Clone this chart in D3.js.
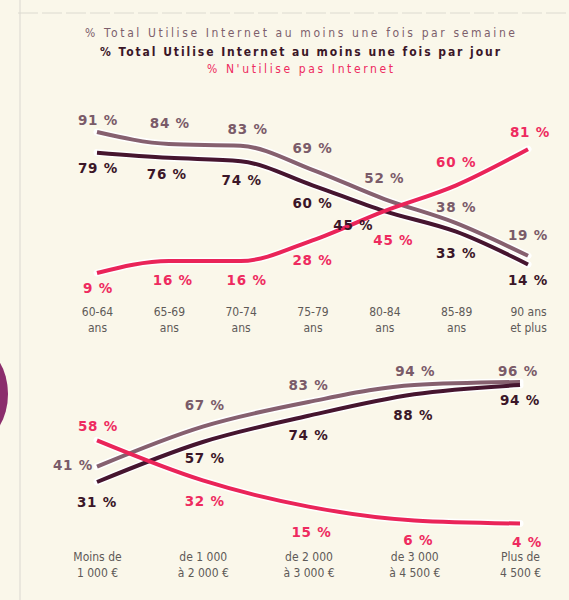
<!DOCTYPE html>
<html lang="fr">
<head>
<meta charset="UTF-8">
<title>Internet et seniors</title>
<style>
  body { margin: 0; background: #faf7ea; }
  svg { display: block; }
</style>
</head>
<body>
<script src="https://d3js.org/d3.v7.min.js"></script>
<script>
    // data - top chart (age)
    const ages = ["60-64|ans", "65-69|ans", "70-74|ans", "75-79|ans", "80-84|ans", "85-89|ans", "90 ans|et plus"];
    const ageWeekly = [91, 84, 83, 69, 52, 38, 19];
    const ageDaily = [79, 76, 74, 60, 45, 33, 14];
    const ageNever = [9, 16, 16, 28, 45, 60, 81];

    // data - bottom chart (income)
    const incomes = ["Moins de|1 000 €", "de 1 000|à 2 000 €", "de 2 000|à 3 000 €", "de 3 000|à 4 500 €", "Plus de|4 500 €"];
    const incWeekly = [41, 67, 83, 94, 96];
    const incDaily = [31, 57, 74, 88, 94];
    const incNever = [58, 32, 15, 6, 4];

    const titles = [
        "% Total Utilise Internet au moins une fois par semaine",
        "% Total Utilise Internet au moins une fois par jour",
        "% N'utilise pas Internet"
    ];

    // label offsets from the point (layout only)
    const topOffsets = {
        weekly: [[1,-12],[1,-21],[7,-17],[0,-22],[0,-21],[0,-16],[0,-21]],
        daily: [[1,15],[-2,16],[1,19],[0,18],[-31,14],[0,21],[0,16]],
        never: [[1,15],[4,19],[6,19],[0,20],[9,29],[0,-23],[2,-17]]
    };
    const botOffsets = {
        weekly: [[-24,-2],[2,-22],[0,-17],[1,-14],[-2,-11]],
        daily: [[0,20],[2,16],[0,19],[-1,21],[0,15]],
        never: [[1,-14],[2,21],[3,25],[4,20],[7,18]]
    };

    const width = 569, height = 600;
    const colWeekly = "#86606f", colDaily = "#46152f", colNever = "#ea2459";
    const txtWeekly = "#7a5b69", txtDaily = "#3b1628", txtNever = "#ee2b5f";

    const svg = d3.select("body").append("svg")
        .attr("width", width)
        .attr("height", height);

    svg.append("rect").attr("width", width).attr("height", height).attr("fill", "#faf7ea");

    // page decorations
    svg.append("ellipse")
        .attr("cx", -22).attr("cy", 394).attr("rx", 30).attr("ry", 46)
        .attr("fill", "#8b2d6c");
    svg.append("line")
        .attr("x1", 20).attr("x2", 20).attr("y1", 0).attr("y2", height)
        .attr("stroke", "#e4e2d8").attr("stroke-width", 1.5);
    svg.append("line")
        .attr("x1", 18).attr("x2", width).attr("y1", 13).attr("y2", 13)
        .attr("stroke", "#dcdad0").attr("stroke-width", 1)
        .attr("stroke-dasharray", "20,4");

    // title
    const titleStyle = [
        {y: 37, w: 430, weight: "normal", fill: "#7d5f6c"},
        {y: 56, w: 400, weight: "bold", fill: "#3b1628"},
        {y: 73, w: 186, weight: "normal", fill: "#ee2b5f"}
    ];
    svg.selectAll(".title")
        .data(titles)
        .join("text")
        .attr("class", "title")
        .attr("x", 300)
        .attr("y", (d, i) => titleStyle[i].y)
        .attr("text-anchor", "middle")
        .attr("font-family", "'Liberation Sans Narrow', 'DejaVu Sans Condensed', 'Noto Sans', sans-serif")
        .attr("font-size", 12)
        .attr("font-weight", (d, i) => titleStyle[i].weight)
        .attr("fill", (d, i) => titleStyle[i].fill)
        .attr("textLength", (d, i) => titleStyle[i].w)
        .attr("lengthAdjust", "spacing")
        .text(d => d);

    function drawPanel(cats, series, x, y, offsets, axisY) {
        const g = svg.append("g");
        const line = d3.line()
            .x((d, i) => x(cats[i]))
            .y(d => y(d))
            .curve(d3.curveMonotoneX);

        // white halos first, then lines
        series.forEach(s => {
            g.append("path")
                .datum(s.values)
                .attr("fill", "none")
                .attr("stroke", "#ffffff")
                .attr("stroke-width", 7)
                .attr("stroke-linecap", "round")
                .attr("d", line);
        });
        series.forEach(s => {
            g.append("path")
                .datum(s.values)
                .attr("fill", "none")
                .attr("stroke", s.color)
                .attr("stroke-width", 4)
                .attr("stroke-linecap", "butt")
                .attr("d", line);
        });

        series.forEach(s => {
            g.selectAll(null)
                .data(s.values)
                .join("text")
                .attr("x", (d, i) => x(cats[i]) + offsets[s.key][i][0])
                .attr("y", (d, i) => y(d) + offsets[s.key][i][1])
                .attr("text-anchor", "middle")
                .attr("dominant-baseline", "central")
                .attr("font-family", "'DejaVu Sans', sans-serif")
                .attr("font-size", 13.5)
                .attr("font-weight", "bold")
                .attr("letter-spacing", 0.8)
                .attr("fill", s.text)
                .text(d => d + " %");
        });

        // category axis
        const axis = g.append("g")
            .attr("transform", `translate(0,${axisY})`)
            .call(d3.axisBottom(x).tickSize(0).tickPadding(0));
        axis.select(".domain").remove();
        axis.selectAll("text")
            .attr("fill", "#5e5a58")
            .attr("font-family", "'Liberation Sans Narrow', 'DejaVu Sans Condensed', 'Liberation Serif', serif")
            .attr("font-size", 12)
            .attr("dy", null)
            .text(null)
            .each(function (d) {
                const parts = d.split("|");
                const t = d3.select(this);
                parts.forEach((p, k) => {
                    t.append("tspan")
                        .attr("x", 0)
                        .attr("dy", k === 0 ? "0em" : "1.3em")
                        .text(p);
                });
            });
    }

    // top chart
    const xTop = d3.scalePoint().domain(ages).range([97, 528]);
    const yTop = d3.scaleLinear().domain([0, 100]).range([288.5, 116.5]);
    drawPanel(ages, [
        {key: "weekly", values: ageWeekly, color: colWeekly, text: txtWeekly},
        {key: "daily", values: ageDaily, color: colDaily, text: txtDaily},
        {key: "never", values: ageNever, color: colNever, text: txtNever}
    ], xTop, yTop, topOffsets, 316);

    // bottom chart
    const xBot = d3.scalePoint().domain(incomes).range([97, 520]);
    const yBot = d3.scaleLinear().domain([0, 100]).range([529.7, 375.8]);
    drawPanel(incomes, [
        {key: "weekly", values: incWeekly, color: colWeekly, text: txtWeekly},
        {key: "daily", values: incDaily, color: colDaily, text: txtDaily},
        {key: "never", values: incNever, color: colNever, text: txtNever}
    ], xBot, yBot, botOffsets, 561);
</script>
</body>
</html>
